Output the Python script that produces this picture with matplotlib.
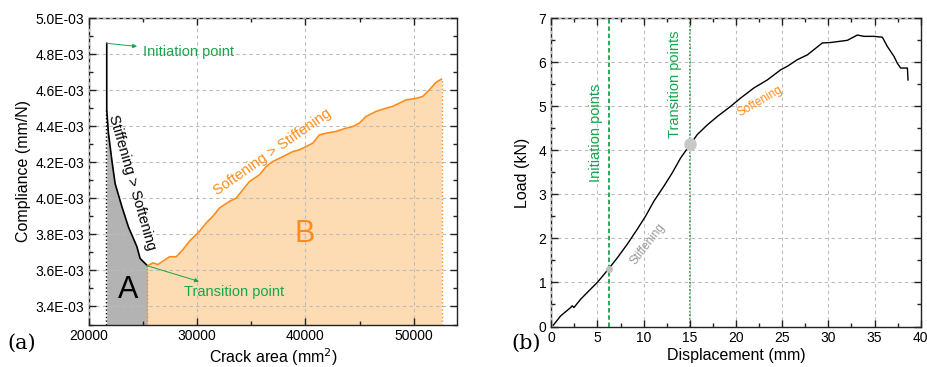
import numpy as np
import matplotlib
matplotlib.use("Agg")
import matplotlib.pyplot as plt
from matplotlib.ticker import MultipleLocator, FuncFormatter

plt.rcParams['font.family'] = ['Liberation Sans', 'DejaVu Sans']

# ---- panel (a): compliance vs crack area
# stiffening > softening branch (black)
area_a = [21640, 21640, 21790, 22100, 22410, 23030, 23640, 24420, 24720, 25400]
comp_a = [4.861e-3, 4.491e-3, 4.365e-3, 4.217e-3, 4.083e-3, 3.956e-3, 3.842e-3,
          3.733e-3, 3.667e-3, 3.626e-3]
# softening > stiffening branch (orange)
area_b = [25400, 25908, 26370, 26830, 27450, 28060, 28680, 29290, 30220, 30830,
          31450, 32060, 32990, 33600, 34220, 34830, 35750, 36370, 36980, 37910,
          38830, 39450, 40060, 40680, 41290, 41910, 42830, 43750, 44370, 44980,
          45600, 46520, 47450, 48060, 48680, 49290, 50220, 50830, 51450, 52060,
          52560]
comp_b = [3.626, 3.642, 3.633, 3.652, 3.676, 3.676, 3.716, 3.763, 3.818, 3.864,
          3.901, 3.947, 3.984, 4.002, 4.048, 4.094, 4.131, 4.177, 4.205, 4.232,
          4.260, 4.270, 4.288, 4.307, 4.353, 4.362, 4.372, 4.390, 4.399, 4.418,
          4.455, 4.483, 4.501, 4.511, 4.529, 4.547, 4.555, 4.566, 4.603, 4.644,
          4.662]
comp_b = [v * 1e-3 for v in comp_b]

# ---- panel (b): load vs displacement
disp = [0.22, 1.01, 2.09, 2.27, 2.45, 3.18, 4.26, 4.98, 6.17, 7.15, 8.23, 9.31,
        10.22, 11.12, 12.20, 13.10, 14.01, 15.02, 15.81, 16.90, 17.98, 19.42,
        20.51, 21.95, 23.39, 24.84, 25.56, 26.64, 27.73, 29.35, 30.25, 32.06,
        33.14, 33.86, 34.95, 35.85, 36.39, 37.12, 37.47, 37.83, 38.56, 38.63]
load = [0.03, 0.24, 0.43, 0.47, 0.43, 0.62, 0.85, 1.00, 1.30, 1.56, 1.87, 2.21,
        2.51, 2.85, 3.19, 3.49, 3.83, 4.13, 4.36, 4.58, 4.77, 5.00, 5.19, 5.42,
        5.60, 5.83, 5.91, 6.06, 6.17, 6.44, 6.45, 6.50, 6.62, 6.59, 6.59, 6.57,
        6.36, 6.13, 5.98, 5.87, 5.87, 5.60]
init_pt = (6.2, 1.31)
trans_pt = (15.05, 4.15)

green = '#14a64a'
orange = '#ff8c1a'
fill_or = '#fddcb4'
fill_gr = '#b3b3b3'

fig = plt.figure(figsize=(9.28, 3.67), dpi=100)
W, H = 928.0, 367.0
ax1 = fig.add_axes([89 / W, 1 - 324.5 / H, (457 - 89) / W, (324.5 - 18.3) / H])
ax2 = fig.add_axes([551.3 / W, 1 - 326.5 / H, (920.7 - 551.3) / W, (326.5 - 18.3) / H])


def style(ax):
    ax.tick_params(which='both', direction='in', top=True, right=True,
                   labelsize=10, color='#222222')
    ax.tick_params(which='major', length=5, width=1)
    ax.tick_params(which='minor', length=3, width=1)
    ax.grid(True, which='major', ls=(0, (3, 3)), color='#bbbbbb', lw=0.8)
    ax.set_axisbelow(False)
    for s in ax.spines.values():
        s.set_linewidth(1.0)
        s.set_color('#222222')


# panel (a)
ax1.set_xlim(20000, 54000)
ax1.set_ylim(3.3e-3, 5.0e-3)
ax1.fill_between(area_a[1:], comp_a[1:], 3.3e-3, color=fill_gr, lw=0, zorder=1)
ax1.fill_between(area_b, comp_b, 3.3e-3, color=fill_or, lw=0, zorder=1)
ax1.plot(area_a, comp_a, color='black', lw=1.2, zorder=3)
ax1.plot(area_b, comp_b, color=orange, lw=1.2, zorder=3)
ax1.plot([area_a[0] - 60] * 2, [3.3e-3, comp_a[1]], color='black', ls=':', lw=1.0, zorder=3)
ax1.plot([area_b[0]] * 2, [3.3e-3, comp_b[0]], color=orange, ls=':', lw=1.0, zorder=3)
ax1.plot([area_b[-1] + 60] * 2, [3.3e-3, comp_b[-1]], color=orange, ls=':', lw=1.0, zorder=3)
style(ax1)
ax1.xaxis.set_major_locator(MultipleLocator(10000))
ax1.xaxis.set_minor_locator(MultipleLocator(5000))
ax1.yaxis.set_major_locator(MultipleLocator(0.2e-3))
ax1.yaxis.set_minor_locator(MultipleLocator(0.1e-3))
ax1.yaxis.set_major_formatter(FuncFormatter(lambda v, p: '%.1fE-03' % (v * 1e3)))
ax1.set_xlabel('Crack area (mm$^2$)', fontsize=11.5, labelpad=2)
ax1.set_ylabel('Compliance (mm/N)', fontsize=11.5, labelpad=3)

ax1.annotate('Initiation point', xy=(area_a[0], comp_a[0]), xytext=(24950, 4.815e-3),
             color=green, fontsize=10.5, va='center', ha='left',
             arrowprops=dict(arrowstyle='<|-', color=green, lw=0.7,
                             mutation_scale=6, shrinkA=2, shrinkB=0))
ax1.annotate('Transition point', xy=(area_b[0], comp_b[0]), xytext=(28750, 3.48e-3),
             color=green, fontsize=10.5, va='center', ha='left',
             arrowprops=dict(arrowstyle='<|-', color=green, lw=0.7,
                             mutation_scale=6, shrinkA=2, shrinkB=0))
ax1.text(23950, 4.09e-3, 'Stiffening > Softening', rotation=-74, fontsize=10.5,
         ha='center', va='center', color='black', rotation_mode='anchor')
ax1.text(36980, 4.26e-3, 'Softening > Stiffening', rotation=35, fontsize=10.5,
         ha='center', va='center', color=orange, rotation_mode='anchor')
ax1.text(23600, 3.49e-3, 'A', fontsize=22, ha='center', va='center', color='black')
ax1.text(39900, 3.80e-3, 'B', fontsize=22, ha='center', va='center', color=orange)

# panel (b)
ax2.set_xlim(0, 40)
ax2.set_ylim(0, 7)
ax2.plot(disp, load, color='black', lw=1.0, zorder=3)
ax2.axvline(init_pt[0] + 0.05, color=green, ls=(0, (2.5, 1.5)), lw=1.3, zorder=2)
ax2.axvline(trans_pt[0], color=green, ls=(0, (1, 1)), lw=1.3, zorder=2)
ax2.plot(*init_pt, 'o', color='#c0c0c0', ms=4, zorder=4)
ax2.plot(*trans_pt, 'o', color='#c8c8c8', ms=8, zorder=4)
style(ax2)
ax2.xaxis.set_major_locator(MultipleLocator(5))
ax2.xaxis.set_minor_locator(MultipleLocator(2.5))
ax2.yaxis.set_major_locator(MultipleLocator(1))
ax2.yaxis.set_minor_locator(MultipleLocator(0.5))
ax2.set_xlabel('Displacement (mm)', fontsize=11.5, labelpad=2)
ax2.set_ylabel('Load (kN)', fontsize=11.5, labelpad=6)
ax2.text(4.8, 4.4, 'Initiation points', rotation=90, color=green, fontsize=10.5,
         ha='center', va='center')
ax2.text(13.4, 5.5, 'Transition points', rotation=90, color=green, fontsize=10.5,
         ha='center', va='center')
ax2.text(22.6, 5.12, 'Softening', rotation=30, color=orange, fontsize=8.5,
         ha='center', va='center', rotation_mode='anchor')
ax2.text(10.4, 1.88, 'Stiffening', rotation=52, color='#999999', fontsize=8.5,
         ha='center', va='center', rotation_mode='anchor')

fig.text(21.7 / W, 1 - 343 / H, '(a)', family='DejaVu Serif', fontsize=15,
         ha='center', va='center')
fig.text(525.7 / W, 1 - 343 / H, '(b)', family='DejaVu Serif', fontsize=15,
         ha='center', va='center')

fig.savefig('out.png', dpi=100)
